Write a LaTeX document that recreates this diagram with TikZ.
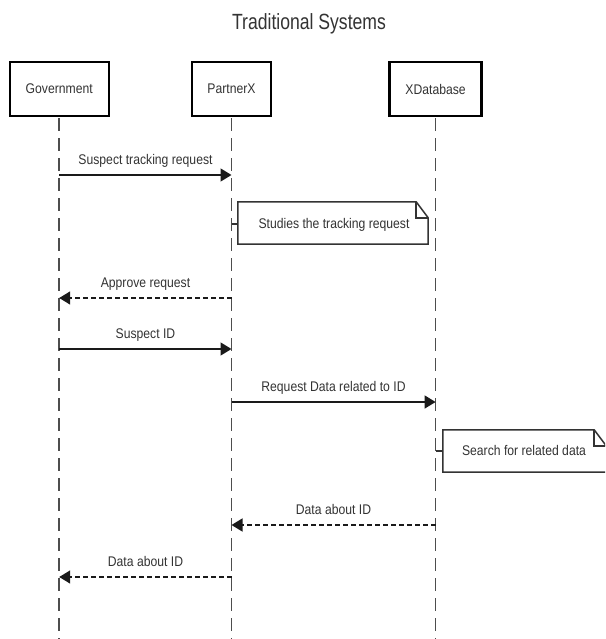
\documentclass[tikz,border=0pt]{standalone}
\usepackage{fontspec}
\setmainfont[FakeStretch=0.87]{Liberation Sans}
\newfontfamily\titlefont[FakeStretch=0.8]{Liberation Sans}
\usetikzlibrary{arrows.meta,calc}
\definecolor{ink}{HTML}{333333}
\definecolor{arr}{HTML}{1A1A1A}
\definecolor{lline}{HTML}{4D4D4D}
\tikzset{
  actor/.style={draw=black, line width=2.4pt, fill=white, minimum height=54pt, inner sep=0pt,
    font=\fontsize{14}{16}\selectfont, text=ink},
  lifeline/.style={draw=lline, line width=1.6pt, dash pattern=on 13pt off 7pt},
  msg/.style={draw=arr, line width=1.5pt, -{Triangle[length=11pt,width=13pt]}},
  reply/.style={msg, dash pattern=on 5pt off 3pt},
  lbl/.style={font=\fontsize{14}{16}\selectfont, text=ink, anchor=base, inner sep=0pt},
  notebox/.style={inner sep=0pt, font=\fontsize{14}{16}\selectfont, text=ink},
  noteline/.style={draw=ink, line width=1.5pt, line join=miter},
}
\begin{document}
\begin{tikzpicture}[x=1pt,y=-1pt]
\useasboundingbox (0,0) rectangle (605,639);
\clip (0,0) rectangle (605,639);
% title
\node[font=\titlefont\fontsize{22}{24}\selectfont, text=ink, anchor=base, inner sep=0pt] (title) at (309,30) {Traditional Systems};
% actors
\node[actor, minimum width=99pt] (gov) at (59.2,89) {Government};
\node[actor, minimum width=79.5pt] (px) at (231.5,89) {PartnerX};
\node[actor, minimum width=92pt] (xdb) at (435.6,89) {XDatabase};
% lifeline ends
\coordinate (govEnd) at (59.2,639);
\coordinate (pxEnd) at (231.5,639);
\coordinate (xdbEnd) at (435.6,639);
\draw[lifeline] ([yshift=-1.2pt]gov.south) -- (govEnd);
\draw[lifeline] ([yshift=-1.2pt]px.south) -- (pxEnd);
\draw[lifeline] ([yshift=-1.2pt]xdb.south) -- (xdbEnd);
% message coordinates
\coordinate (m1a) at (59.2,175);  \coordinate (m1b) at (231.5,175);
\coordinate (m2a) at (231.5,298); \coordinate (m2b) at (59.2,298);
\coordinate (m3a) at (59.2,349);  \coordinate (m3b) at (231.5,349);
\coordinate (m4a) at (231.5,402); \coordinate (m4b) at (435.6,402);
\coordinate (m5a) at (435.6,525); \coordinate (m5b) at (231.5,525);
\coordinate (m6a) at (231.5,577); \coordinate (m6b) at (59.2,577);
% messages
\draw[msg] (m1a) -- (m1b);
\node[lbl] (l1) at (145.5,164.8) {Suspect tracking request};
\draw[reply] (m2a) -- (m2b);
\node[lbl] (l2) at (145.5,287.8) {Approve request};
\draw[msg] (m3a) -- (m3b);
\node[lbl] (l3) at (145.5,338.8) {Suspect ID};
\draw[msg] (m4a) -- (m4b);
\node[lbl] (l4) at (333.5,391.8) {Request Data related to ID};
\draw[reply] (m5a) -- (m5b);
\node[lbl] (l5) at (333.5,514.8) {Data about ID};
\draw[reply] (m6a) -- (m6b);
\node[lbl] (l6) at (145.5,566.8) {Data about ID};
% note 1
\node[notebox, minimum width=190pt, minimum height=42pt] (n1) at (333,223) {};
\fill[white] (n1.north west) rectangle (n1.south east);
\draw[noteline] (n1.north west) -- ([xshift=-12pt]n1.north east) -- ([yshift=-16pt]n1.north east) -- (n1.south east) -- (n1.south west) -- cycle;
\draw[noteline] ([xshift=-12pt]n1.north east) -- ([xshift=-12pt,yshift=-16pt]n1.north east) -- ([yshift=-16pt]n1.north east);
\node[lbl] (n1t) at (334,228) {Studies the tracking request};
\coordinate (c1) at (231.5,224);
\draw[noteline] (c1) -- (c1 -| n1.west);
% note 2
\node[notebox, minimum width=163pt, minimum height=42pt] (n2) at (524.5,451) {};
\fill[white] (n2.north west) rectangle (n2.south east);
\draw[noteline] (n2.north west) -- ([xshift=-12pt]n2.north east) -- ([yshift=-16pt]n2.north east) -- (n2.south east) -- (n2.south west) -- cycle;
\draw[noteline] ([xshift=-12pt]n2.north east) -- ([xshift=-12pt,yshift=-16pt]n2.north east) -- ([yshift=-16pt]n2.north east);
\node[lbl] (n2t) at (524,455.5) {Search for related data};
\coordinate (c2) at (435.6,451);
\draw[noteline] (c2) -- (c2 -| n2.west);
\end{tikzpicture}
\end{document}
